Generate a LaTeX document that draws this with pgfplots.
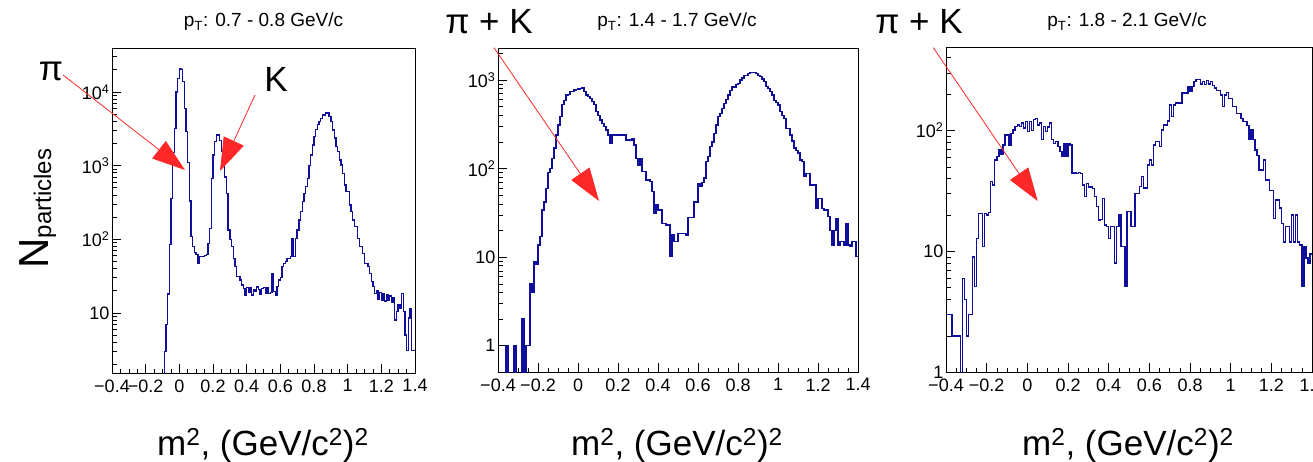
\documentclass[border=0pt]{standalone}
\usepackage{fontspec}
\setmainfont{Liberation Sans}
\usepackage{pgfplots}
\pgfplotsset{compat=1.18}
\usetikzlibrary{arrows.meta}
\definecolor{histblue}{RGB}{15,15,155}
\definecolor{arrred}{RGB}{255,40,40}
\pgfplotsset{
  every axis/.append style={
    scale only axis,
    xmin=-0.4, xmax=1.4,
    xtick={-0.4,-0.2,0,0.2,0.4,0.6,0.8,1,1.2,1.4},
    xticklabels={−0.4,−0.2,0,0.2,0.4,0.6,0.8,1,1.2,1.4},
    minor xtick={-0.35,-0.3,-0.25,-0.15,-0.1,-0.05,0.05,0.1,0.15,0.25,0.3,0.35,0.45,0.5,0.55,0.65,0.7,0.75,0.85,0.9,0.95,1.05,1.1,1.15,1.25,1.3,1.35},
    minor ytick={2,3,4,5,6,7,8,9,20,30,40,50,60,70,80,90,200,300,400,500,600,700,800,900,2000,3000,4000,5000,6000,7000,8000,9000,20000,30000},
    tick align=inside,
    tick pos=left,
    major tick length=9pt,
    minor tick length=4.5pt,
    tick style={black, line width=0.6pt},
    axis line style={black, line width=0.8pt},
    tick label style={font=\fontsize{18}{18}\selectfont},
    xticklabel style={yshift=-3pt},
    yticklabel style={xshift=1pt},
  }
}
\begin{document}
\begin{tikzpicture}
\useasboundingbox (0pt,0pt) rectangle (1313pt,461pt);
% ---------------- panel 1
\begin{axis}[ymode=log, at={(112pt,88pt)}, anchor=south west, width=303pt, height=325pt,
  ymin=1.53, ymax=39500,
  ytick={10,100,1000,10000},
  yticklabels={10,10\textsuperscript{2},10\textsuperscript{3},10\textsuperscript{4}}]
\addplot[const plot mark left, histblue, line width=1.35pt, mark=none] coordinates {
(-0.40,0.01) (-0.09,3) (-0.08,7) (-0.07,18) (-0.06,85) (-0.05,360) (-0.04,1500) (-0.03,3200) (-0.02,10000) (-0.01,15300)
(0.00,20500) (0.01,20300) (0.02,14000) (0.03,6000) (0.04,2900) (0.05,1100) (0.06,330) (0.07,110) (0.08,80) (0.09,66)
(0.10,62) (0.11,47) (0.12,58) (0.13,58) (0.14,58) (0.15,60) (0.16,62) (0.17,88) (0.18,141) (0.19,672)
(0.20,1390) (0.21,2110) (0.22,2600) (0.23,2600) (0.24,2200) (0.25,1550) (0.26,966) (0.27,700) (0.28,421) (0.29,134)
(0.30,100) (0.31,79) (0.32,55) (0.33,42.5) (0.34,31) (0.35,31) (0.36,28) (0.37,24) (0.38,21.6) (0.39,17.5)
(0.40,22) (0.41,19) (0.42,22) (0.43,17.5) (0.44,21) (0.45,19.6) (0.46,22.5) (0.47,21) (0.48,18) (0.49,21.5)
(0.50,22) (0.51,18.5) (0.52,22) (0.53,18.5) (0.54,19) (0.55,34.5) (0.56,19.5) (0.57,17.5) (0.58,22.7) (0.59,28)
(0.60,30) (0.61,42.5) (0.62,47) (0.63,50) (0.64,55) (0.65,55) (0.66,58) (0.67,103) (0.68,58) (0.69,103)
(0.70,134) (0.71,183) (0.72,237) (0.73,324) (0.74,420) (0.75,520) (0.76,672) (0.77,1000) (0.78,1400) (0.79,1900)
(0.80,2500) (0.81,3100) (0.82,3650) (0.83,3950) (0.84,4380) (0.85,4880) (0.86,4880) (0.87,5150) (0.88,5150) (0.89,4630)
(0.90,3950) (0.91,3050) (0.92,2360) (0.93,1800) (0.94,1550) (0.95,1190) (0.96,1020) (0.97,786) (0.98,545) (0.99,443)
(1.00,443) (1.01,292) (1.02,237) (1.03,183) (1.04,149) (1.05,149) (1.06,103) (1.07,79) (1.08,79) (1.09,64)
(1.10,47) (1.11,47) (1.12,42.5) (1.13,34.5) (1.14,26.6) (1.15,22.7) (1.16,18.5) (1.17,20) (1.18,15.5) (1.19,19)
(1.20,15) (1.21,18) (1.22,14.5) (1.23,17.5) (1.24,15) (1.25,17) (1.26,14) (1.27,16) (1.28,8) (1.29,10.4)
(1.30,12.8) (1.31,11.6) (1.32,18.5) (1.33,10.4) (1.34,5) (1.35,3.1) (1.36,8.5) (1.37,11.6) (1.38,3.1) (1.39,3.1)
(1.40,3.1)
};
\end{axis}
% ---------------- panel 2
\begin{axis}[ymode=log, at={(498pt,89pt)}, anchor=south west, width=360pt, height=324pt,
  ymin=0.505, ymax=2297,
  ytick={1,10,100,1000},
  yticklabels={1,10,10\textsuperscript{2},10\textsuperscript{3}}]
\addplot[const plot mark left, histblue, line width=1.35pt, mark=none] coordinates {
(-0.40,0.01) (-0.36,1) (-0.35,0.01) (-0.32,1) (-0.31,0.01) (-0.28,2) (-0.27,0.01) (-0.26,1) (-0.25,1) (-0.24,5)
(-0.23,4) (-0.22,8.9) (-0.21,8.2) (-0.20,13.7) (-0.19,17) (-0.18,34) (-0.17,42) (-0.16,60) (-0.15,90) (-0.14,100)
(-0.13,130) (-0.12,170) (-0.11,240) (-0.10,310) (-0.09,385) (-0.08,525) (-0.07,590) (-0.06,675) (-0.05,690) (-0.04,740)
(-0.03,740) (-0.02,770) (-0.01,785) (0.00,790) (0.01,800) (0.02,810) (0.03,740) (0.04,675) (0.05,650) (0.06,620)
(0.07,570) (0.08,525) (0.09,440) (0.10,400) (0.11,355) (0.12,325) (0.13,297) (0.14,272) (0.15,240) (0.16,193)
(0.17,240) (0.18,235) (0.19,240) (0.20,240) (0.21,235) (0.22,240) (0.23,240) (0.24,210) (0.25,210) (0.26,210)
(0.27,215) (0.28,185) (0.29,130) (0.30,110) (0.31,130) (0.32,92) (0.33,92) (0.34,74) (0.35,74) (0.36,72)
(0.37,55) (0.38,31) (0.39,39) (0.40,34) (0.41,34) (0.42,24) (0.43,24) (0.44,23) (0.45,23) (0.46,10.1)
(0.47,17.8) (0.48,15) (0.49,15) (0.50,18.5) (0.51,18.5) (0.52,18.5) (0.53,18.5) (0.54,17.8) (0.55,27.9) (0.56,27.9)
(0.57,28) (0.58,42) (0.59,42) (0.60,68) (0.61,63) (0.62,70) (0.63,78) (0.64,120) (0.65,136) (0.66,178)
(0.67,200) (0.68,250) (0.69,310) (0.70,385) (0.71,420) (0.72,478) (0.73,545) (0.74,600) (0.75,675) (0.76,760)
(0.77,840) (0.78,820) (0.79,890) (0.80,917) (0.81,1000) (0.82,1050) (0.83,1120) (0.84,1120) (0.85,1190) (0.86,1220)
(0.87,1220) (0.88,1220) (0.89,1190) (0.90,1120) (0.91,1090) (0.92,1030) (0.93,960) (0.94,840) (0.95,800) (0.96,740)
(0.97,675) (0.98,590) (0.99,560) (1.00,520) (1.01,440) (1.02,400) (1.03,365) (1.04,285) (1.05,285) (1.06,240)
(1.07,205) (1.08,170) (1.09,160) (1.10,150) (1.11,125) (1.12,120) (1.13,81) (1.14,88) (1.15,88) (1.16,65)
(1.17,65) (1.18,65) (1.19,36) (1.20,46) (1.21,46) (1.22,35.6) (1.23,34) (1.24,34) (1.25,28.6) (1.26,20)
(1.27,13.7) (1.28,20) (1.29,27.4) (1.30,13.7) (1.31,15) (1.32,15) (1.33,13.7) (1.34,24) (1.35,13.7) (1.36,13.1)
(1.37,15) (1.38,15) (1.39,10.1) (1.40,10.1)
};
\end{axis}
% ---------------- panel 3
\begin{axis}[ymode=log, at={(946pt,88.7pt)}, anchor=south west, width=366pt, height=324.6pt,
  ymin=1, ymax=484,
  ytick={1,10,100},
  yticklabels={1,10,10\textsuperscript{2}}]
\addplot[const plot mark left, histblue, line width=1.35pt, mark=none] coordinates {
(-0.40,3) (-0.39,3) (-0.38,3) (-0.37,2) (-0.36,2) (-0.35,2) (-0.34,2) (-0.33,0.01) (-0.32,6) (-0.31,4)
(-0.30,2) (-0.29,3) (-0.28,3) (-0.27,9) (-0.26,5.1) (-0.25,12.8) (-0.24,20.7) (-0.23,20.7) (-0.22,11) (-0.21,20.7)
(-0.20,20) (-0.19,21) (-0.18,38) (-0.17,35.5) (-0.16,57) (-0.15,61) (-0.14,69) (-0.13,63) (-0.12,76) (-0.11,92)
(-0.10,92) (-0.09,76) (-0.08,95) (-0.07,101) (-0.06,108) (-0.05,111) (-0.04,108) (-0.03,115) (-0.02,105) (-0.01,119)
(0.00,98) (0.01,119) (0.02,100) (0.03,123) (0.04,125) (0.05,111) (0.06,115) (0.07,84) (0.08,108) (0.09,98)
(0.10,107) (0.11,115) (0.12,84) (0.13,78) (0.14,81) (0.15,74) (0.16,67) (0.17,61) (0.18,78) (0.19,61)
(0.20,78) (0.21,76) (0.22,44) (0.23,45) (0.24,44) (0.25,45) (0.26,44) (0.27,35.5) (0.28,28.4) (0.29,36.5)
(0.30,34) (0.31,34) (0.32,33) (0.33,28.4) (0.34,23.5) (0.35,18.2) (0.36,18.3) (0.37,27.5) (0.38,16.5) (0.39,16)
(0.40,12.8) (0.41,16) (0.42,16) (0.43,8) (0.44,16) (0.45,20) (0.46,11) (0.47,11) (0.48,5.1) (0.49,21.3)
(0.50,21.3) (0.51,16) (0.52,16) (0.53,30) (0.54,30) (0.55,34.4) (0.56,41.7) (0.57,33.4) (0.58,33.4) (0.59,52)
(0.60,57) (0.61,52) (0.62,76) (0.63,81) (0.64,81) (0.65,74) (0.66,101) (0.67,111) (0.68,111) (0.69,120)
(0.70,163) (0.71,131) (0.72,163) (0.73,169) (0.74,169) (0.75,169) (0.76,204) (0.77,204) (0.78,204) (0.79,232)
(0.80,210) (0.81,232) (0.82,255) (0.83,263) (0.84,263) (0.85,242) (0.86,255) (0.87,240) (0.88,258) (0.89,242)
(0.90,255) (0.91,235) (0.92,224) (0.93,215) (0.94,215) (0.95,197) (0.96,158) (0.97,197) (0.98,205) (0.99,185)
(1.00,185) (1.01,158) (1.02,158) (1.03,139) (1.04,139) (1.05,126) (1.06,119) (1.07,119) (1.08,110) (1.09,84)
(1.10,101) (1.11,84) (1.12,69) (1.13,62) (1.14,47) (1.15,47) (1.16,57) (1.17,39) (1.18,39) (1.19,32)
(1.20,32) (1.21,18.8) (1.22,26.6) (1.23,26.6) (1.24,22.8) (1.25,17) (1.26,12) (1.27,16) (1.28,16) (1.29,12)
(1.30,20) (1.31,12) (1.32,20) (1.33,12) (1.34,11.3) (1.35,5.1) (1.36,11) (1.37,8.8) (1.38,8) (1.39,9.5)
(1.40,9.5)
};
\end{axis}
% ---------------- texts
\node[anchor=base, font=\fontsize{19}{19}\selectfont] at (263.5pt,434pt) {p\textsubscript{T}: 0.7 - 0.8 GeV/c};
\node[anchor=base, font=\fontsize{19}{19}\selectfont] at (677pt,434pt) {p\textsubscript{T}: 1.4 - 1.7 GeV/c};
\node[anchor=base, font=\fontsize{19}{19}\selectfont] at (1127pt,434pt) {p\textsubscript{T}: 1.8 - 2.1 GeV/c};
\node[anchor=base, font=\fontsize{35}{35}\selectfont] at (263pt,6pt) {m\textsuperscript{2}, (GeV/c\textsuperscript{2})\textsuperscript{2}};
\node[anchor=base, font=\fontsize{35}{35}\selectfont] at (677pt,6pt) {m\textsuperscript{2}, (GeV/c\textsuperscript{2})\textsuperscript{2}};
\node[anchor=base, font=\fontsize{35}{35}\selectfont] at (1128pt,6pt) {m\textsuperscript{2}, (GeV/c\textsuperscript{2})\textsuperscript{2}};
\node[anchor=base, rotate=90, font=\fontsize{42}{42}\selectfont] at (48pt,252.5pt) {N\raisebox{-3pt}{\fontsize{24}{24}\selectfont particles}};
\node[font=\fontsize{35}{35}\selectfont] at (51pt,390pt) {π};
\node[font=\fontsize{35}{35}\selectfont] at (276pt,381.5pt) {K};
\node[font=\fontsize{35}{35}\selectfont] at (489pt,439pt) {π + K};
\node[font=\fontsize{35}{35}\selectfont] at (919pt,439pt) {π + K};
% ---------------- arrows
\begin{scope}[arrred, line width=0.8pt]
\draw[-{Triangle[length=33pt,width=22pt]}] (63pt,386pt) -- (185pt,291pt);
\draw[-{Triangle[length=33pt,width=22pt]}] (255pt,366pt) -- (220pt,290pt);
\draw[-{Triangle[length=33pt,width=22pt]}] (494pt,413.3pt) -- (599pt,260pt);
\draw[-{Triangle[length=33pt,width=22pt]}] (933.3pt,413.3pt) -- (1037.7pt,260pt);
\end{scope}
\end{tikzpicture}
\end{document}
